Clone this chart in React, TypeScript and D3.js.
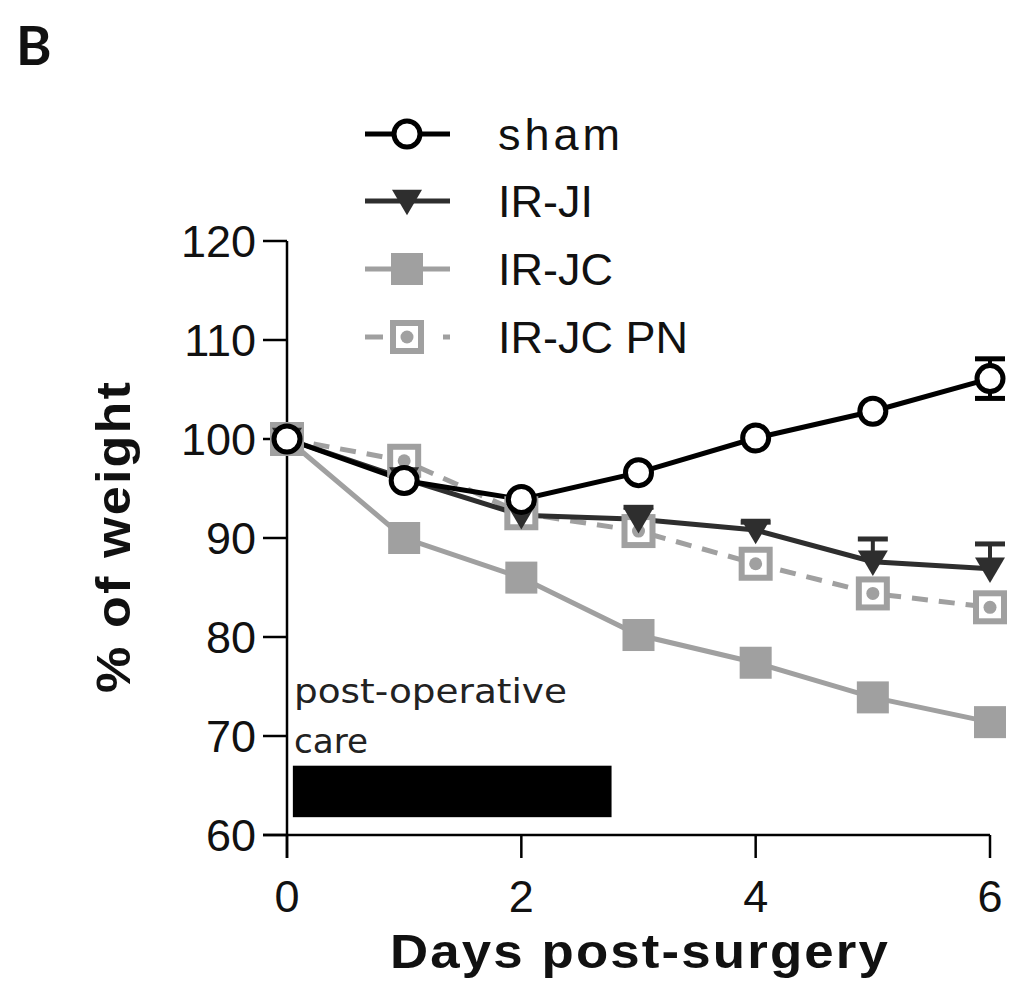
import React from "react";
import * as d3 from "d3";

const days = [0, 1, 2, 3, 4, 5, 6];
const sham = [100, 95.8, 93.9, 96.6, 100.1, 102.8, 106.1];
const shamErr = [0, 0, 0, 0, 0, 0, 2.0];
const irJI = [100, 96.0, 92.3, 91.9, 90.8, 87.6, 86.9];
const irJIErr = [0, 0, 0, 1.2, 0.8, 2.3, 2.5];
const irJC = [100, 90.0, 86.0, 80.2, 77.4, 73.9, 71.4];
const irJCPN = [100, 97.8, 92.5, 90.7, 87.4, 84.4, 83.0];
const yTicks = [60, 70, 80, 90, 100, 110, 120];
const xTicks = [0, 2, 4, 6];
const careSpan = [0.05, 2.77];
const careRange = [61.8, 67];
const legendNames = ["sham", "IR-JI", "IR-JC", "IR-JC PN"];

const GRAY = "#a0a0a0";
const DARK = "#2e2e2e";

export default function App() {
  const x = d3.scaleLinear().domain([0, 6]).range([287, 990]);
  const y = d3.scaleLinear().domain([60, 120]).range([835, 241]);
  const line = d3
    .line<number>()
    .x((_, i) => x(days[i]))
    .y((v) => y(v));

  const tri = (cx: number, cy: number, s: number) =>
    `M${cx - s},${cy - s * 0.75} L${cx + s},${cy - s * 0.75} L${cx},${cy + s * 0.95} Z`;

  const font = "'Liberation Sans', Arial, sans-serif";
  const legendY = [134, 201, 269, 337];

  return (
    <div style={{ position: "absolute", left: 0, top: 0 }}>
      <svg width={1015} height={982} style={{ display: "block", background: "#fff" }}>
        <text x={16} y={65} fontFamily="Lato, 'Open Sans', sans-serif" fontWeight="bold" fontSize={54} fill="#111">
          B
        </text>

        {/* axes */}
        <line x1={x(0)} x2={x(0)} y1={y(120)} y2={858} stroke="#000" strokeWidth={2.5} />
        <line x1={263} x2={x(6)} y1={y(60)} y2={y(60)} stroke="#000" strokeWidth={2.5} />
        {yTicks.map((t) => (
          <g key={"y" + t}>
            <line x1={263} x2={x(0)} y1={y(t)} y2={y(t)} stroke="#000" strokeWidth={2.5} />
            <text x={256} y={y(t) + 16} textAnchor="end" fontFamily={font} fontSize={45} fill="#111">
              {t}
            </text>
          </g>
        ))}
        {xTicks.map((t) => (
          <g key={"x" + t}>
            <line x1={x(t)} x2={x(t)} y1={y(60)} y2={858} stroke="#000" strokeWidth={2.5} />
            <text x={x(t)} y={912} textAnchor="middle" fontFamily={font} fontSize={45} fill="#111">
              {t}
            </text>
          </g>
        ))}
        <text x={390} y={968} fontFamily={font} fontWeight="bold" fontSize={49} fill="#111" letterSpacing={2} textLength={500} lengthAdjust="spacingAndGlyphs">
          Days post-surgery
        </text>
        <text
          transform={`translate(130,693) rotate(-90)`}
          fontFamily={font}
          fontWeight="bold"
          fontSize={48}
          fill="#111"
          letterSpacing={2}
          textLength={313}
          lengthAdjust="spacingAndGlyphs"
        >
          % of weight
        </text>

        {/* post-operative care */}
        <rect
          x={x(careSpan[0])}
          y={y(careRange[1])}
          width={x(careSpan[1]) - x(careSpan[0])}
          height={y(careRange[0]) - y(careRange[1])}
          fill="#000"
        />
        <text x={294} y={703} fontFamily="'DejaVu Sans Condensed', 'DejaVu Sans', sans-serif" fontSize={33} fill="#222" textLength={273} lengthAdjust="spacingAndGlyphs">
          post-operative
        </text>
        <text x={294} y={753} fontFamily="'DejaVu Sans Condensed', 'DejaVu Sans', sans-serif" fontSize={33} fill="#222" textLength={74} lengthAdjust="spacingAndGlyphs">
          care
        </text>

        {/* lines */}
        <path d={line(irJC) || ""} fill="none" stroke={GRAY} strokeWidth={5} />
        <path d={line(irJCPN) || ""} fill="none" stroke={GRAY} strokeWidth={5} strokeDasharray="16,11" />
        <path d={line(irJI) || ""} fill="none" stroke={DARK} strokeWidth={5} />
        <path d={line(sham) || ""} fill="none" stroke="#000" strokeWidth={5} />

        {/* IR-JC squares */}
        {irJC.map((v, i) => (
          <rect key={"jc" + i} x={x(days[i]) - 16} y={y(v) - 16} width={32} height={32} fill={GRAY} />
        ))}
        {/* PN squares */}
        {irJCPN.map((v, i) => (
          <g key={"pn" + i}>
            <rect x={x(days[i]) - 14} y={y(v) - 14} width={28} height={28} fill="#fff" stroke={GRAY} strokeWidth={6} />
            <circle cx={x(days[i])} cy={y(v)} r={6.5} fill={GRAY} />
          </g>
        ))}
        {/* IR-JI error bars + triangles */}
        {irJI.map((v, i) =>
          irJIErr[i] > 0 ? (
            <g key={"jie" + i}>
              <line x1={x(days[i])} x2={x(days[i])} y1={y(v + irJIErr[i])} y2={y(v)} stroke={DARK} strokeWidth={4} />
              <line x1={x(days[i]) - 15} x2={x(days[i]) + 15} y1={y(v + irJIErr[i])} y2={y(v + irJIErr[i])} stroke={DARK} strokeWidth={5} />
            </g>
          ) : null
        )}
        {irJI.map((v, i) => (
          <path key={"ji" + i} d={tri(x(days[i]), y(v), 15)} fill={DARK} />
        ))}
        {/* sham error bars + circles */}
        {sham.map((v, i) =>
          shamErr[i] > 0 ? (
            <g key={"se" + i}>
              <line x1={x(days[i])} x2={x(days[i])} y1={y(v + shamErr[i])} y2={y(v - shamErr[i])} stroke="#000" strokeWidth={4} />
              <line x1={x(days[i]) - 15} x2={x(days[i]) + 15} y1={y(v + shamErr[i])} y2={y(v + shamErr[i])} stroke="#000" strokeWidth={5} />
              <line x1={x(days[i]) - 15} x2={x(days[i]) + 15} y1={y(v - shamErr[i])} y2={y(v - shamErr[i])} stroke="#000" strokeWidth={5} />
            </g>
          ) : null
        )}
        {sham.map((v, i) => (
          <circle key={"s" + i} cx={x(days[i])} cy={y(v)} r={13} fill="#fff" stroke="#000" strokeWidth={5} />
        ))}

        {/* legend */}
        <g>
          <line x1={365} x2={450} y1={legendY[0]} y2={legendY[0]} stroke="#000" strokeWidth={5} />
          <circle cx={407} cy={legendY[0]} r={13} fill="#fff" stroke="#000" strokeWidth={5} />
          <line x1={365} x2={450} y1={legendY[1]} y2={legendY[1]} stroke={DARK} strokeWidth={5} />
          <path d={tri(407, legendY[1], 15)} fill={DARK} />
          <line x1={365} x2={450} y1={legendY[2]} y2={legendY[2]} stroke={GRAY} strokeWidth={5} />
          <rect x={391} y={legendY[2] - 16} width={32} height={32} fill={GRAY} />
          <line x1={365} x2={383} y1={legendY[3]} y2={legendY[3]} stroke={GRAY} strokeWidth={5} />
          <line x1={443} x2={450} y1={legendY[3]} y2={legendY[3]} stroke={GRAY} strokeWidth={5} />
          <rect x={393} y={legendY[3] - 14} width={28} height={28} fill="#fff" stroke={GRAY} strokeWidth={6} />
          <circle cx={407} cy={legendY[3]} r={6.5} fill={GRAY} />
          {legendNames.map((n, i) => (
            <text key={n} x={498} y={legendY[i] + 16} fontFamily={font} fontSize={45} fill="#111" letterSpacing={i === 0 ? 4 : 0}>
              {n}
            </text>
          ))}
        </g>
      </svg>
    </div>
  );
}
